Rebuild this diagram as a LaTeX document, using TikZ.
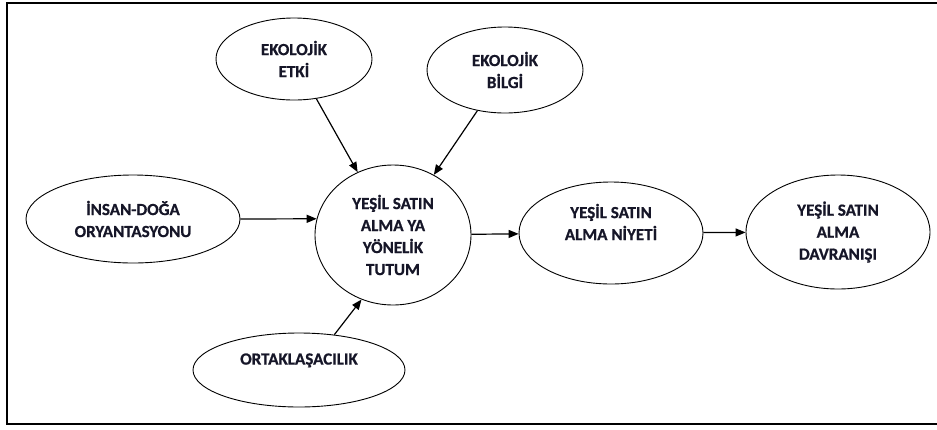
\documentclass[tikz,border=0pt]{standalone}
\usepackage{fontspec}
\setmainfont{Carlito}[BoldFeatures={FakeBold=0.8}]
\usetikzlibrary{arrows.meta,shapes.geometric}
\definecolor{ink}{RGB}{22,22,40}
\begin{document}
\begin{tikzpicture}[x=1pt,y=-1pt,
  oval/.style={ellipse,draw=black,line width=0.9pt,inner sep=0pt,align=center,
    text=ink,font=\fontsize{17}{22}\selectfont\bfseries},
  arr/.style={-{Triangle[length=10pt,width=8pt]},line width=1.2pt},
  frame/.style={line width=1.8pt,line join=miter}]
\useasboundingbox (0,0) rectangle (937,429);
\draw[frame] (937,3) -- (7,3) -- (7,424) -- (937,424);

\node[oval,minimum width=156pt,minimum height=82pt] (etki) at (294,59) {EKOLOJİK\\ETKİ};
\node[oval,minimum width=156pt,minimum height=86pt] (bilgi) at (505,70) {EKOLOJİK\\BİLGİ};
\node[oval,minimum width=214pt,minimum height=88pt] (insan) at (133,219) {İNSAN-DOĞA\\ORYANTASYONU};
\node[oval,minimum width=156pt,minimum height=140pt] (tutum) at (393,235) {YEŞİL SATIN\\ALMA YA\\YÖNELİK\\TUTUM};
\node[oval,minimum width=212pt,minimum height=74pt] (ortak) at (299,370) {ORTAKLAŞACILIK\\\mbox{}};
\node[oval,minimum width=184pt,minimum height=102pt] (niyet) at (611,233) {YEŞİL SATIN\\ALMA NİYETİ\\\mbox{}};
\node[oval,minimum width=184pt,minimum height=114pt] (davr) at (838,232) {YEŞİL SATIN\\ALMA\\DAVRANIŞI};

\draw[arr] (etki) -- (tutum);
\draw[arr] (bilgi) -- (tutum);
\draw[arr] (insan.east) -- (tutum.168);
\draw[arr] (ortak.45) -- (tutum.244);
\draw[arr] (tutum) -- (niyet);
\draw[arr] (niyet) -- (davr);
\end{tikzpicture}
\end{document}
